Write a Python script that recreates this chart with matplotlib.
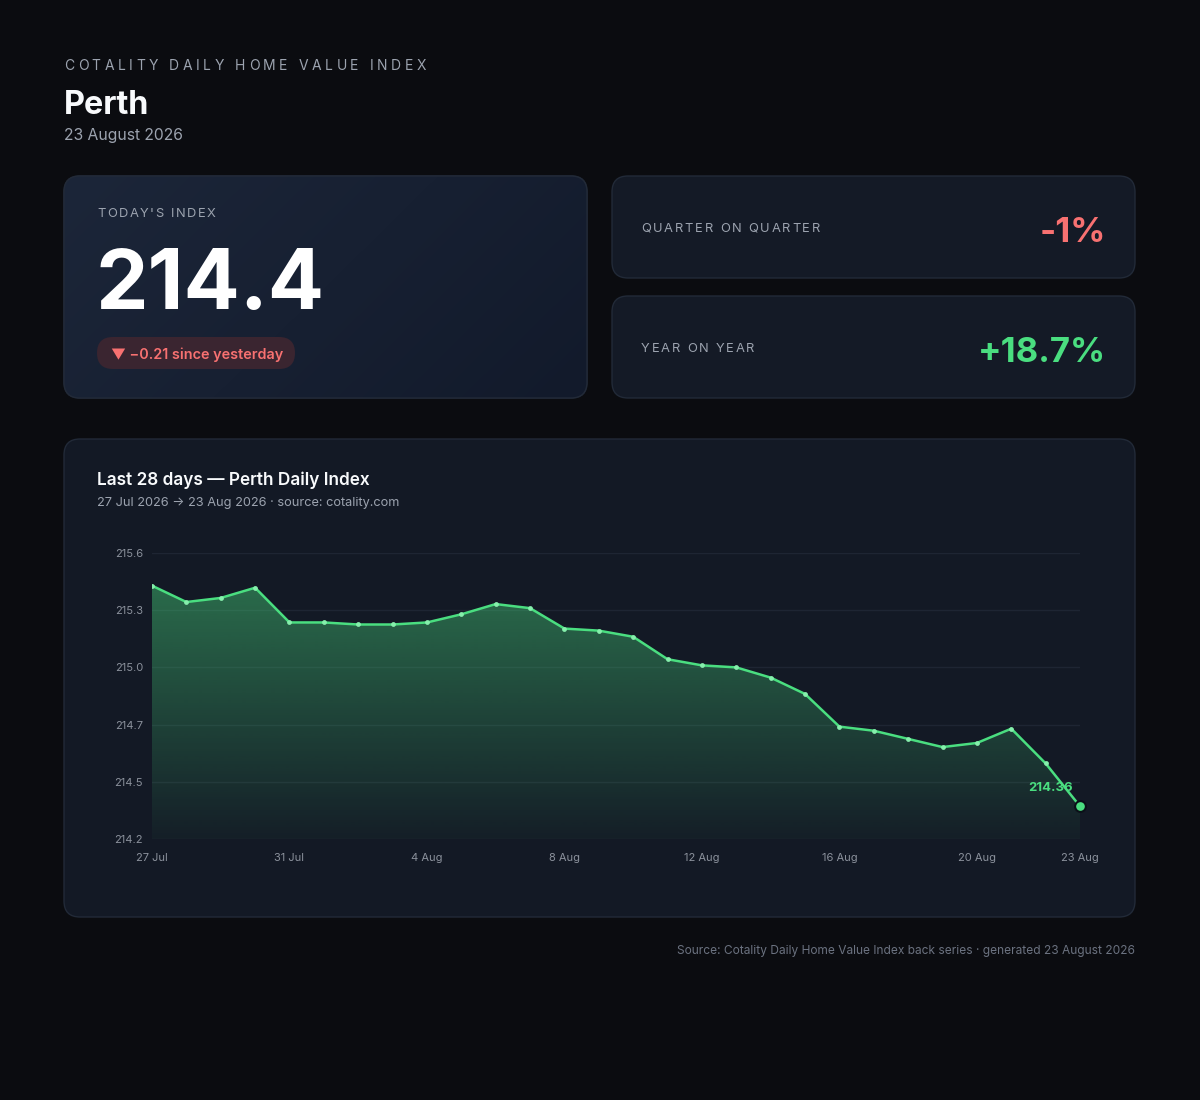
import numpy as np
import matplotlib
matplotlib.use("Agg")
import matplotlib.pyplot as plt
from matplotlib.patches import FancyBboxPatch, PathPatch
from matplotlib.font_manager import FontProperties

# ---------------- data ----------------
dates = ["27 Jul", "28 Jul", "29 Jul", "30 Jul", "31 Jul", "1 Aug", "2 Aug", "3 Aug",
         "4 Aug", "5 Aug", "6 Aug", "7 Aug", "8 Aug", "9 Aug", "10 Aug", "11 Aug",
         "12 Aug", "13 Aug", "14 Aug", "15 Aug", "16 Aug", "17 Aug", "18 Aug", "19 Aug",
         "20 Aug", "21 Aug", "22 Aug", "23 Aug"]
index_values = [215.44, 215.36, 215.38, 215.43, 215.26, 215.26, 215.25, 215.25,
                215.26, 215.30, 215.35, 215.33, 215.23, 215.22, 215.19, 215.08,
                215.05, 215.04, 214.99, 214.91, 214.75, 214.73, 214.69, 214.65,
                214.67, 214.74, 214.57, 214.36]
xtick_labels = ["27 Jul", "31 Jul", "4 Aug", "8 Aug", "12 Aug", "16 Aug", "20 Aug", "23 Aug"]
ytick_labels = ["214.2", "214.5", "214.7", "215.0", "215.3", "215.6"]
y_range = (214.2, 215.6)

todays_index = "214.4"
change_text = "\u25BC \u22120.21 since yesterday"
qoq_text = "-1%"
yoy_text = "+18.7%"
last_label = "214.36"

# ---------------- style ----------------
BG = "#0b0c10"
CARD = "#131925"
CARD_EDGE = "#222a38"
GRID = "#1e2533"
GREEN = "#4ade80"
GREEN_DOT = "#86efac"
RED = "#f87171"
WHITE = "#f8fafc"
GRAY = "#9ca3af"
GRAY2 = "#8b919c"
DIM = "#6b7280"
FAM = ["Inter", "DejaVu Sans"]

W, H = 1200, 1100
fig = plt.figure(figsize=(W / 100, H / 100), dpi=100, facecolor=BG)
bg = fig.add_axes([0, 0, 1, 1])
bg.set_xlim(0, W)
bg.set_ylim(H, 0)
bg.axis("off")
bg.set_zorder(0)
renderer = fig.canvas.get_renderer()


def fp(size, weight="normal"):
    return FontProperties(family=FAM, size=size, weight=weight)


def text_w(s, prop):
    w1, _, _ = renderer.get_text_width_height_descent("x" + s + "x", prop, ismath=False)
    w0, _, _ = renderer.get_text_width_height_descent("xx", prop, ismath=False)
    return w1 - w0


def spaced(x, y, s, prop, tracking, color):
    cur = x
    for ch in s:
        bg.text(cur, y, ch, fontproperties=prop, color=color, ha="left", va="baseline")
        cur += text_w(ch, prop) + tracking


def card(x0, y0, x1, y1, face, edge=CARD_EDGE, r=16, grad=None):
    p = FancyBboxPatch((x0, y0), x1 - x0, y1 - y0,
                       boxstyle=f"round,pad=0,rounding_size={r}",
                       facecolor=face, edgecolor=edge, linewidth=1.0, zorder=1)
    bg.add_patch(p)
    if grad is not None:
        c0 = np.array(matplotlib.colors.to_rgb(grad[0]))
        c1 = np.array(matplotlib.colors.to_rgb(grad[1]))
        gx, gy = np.meshgrid(np.linspace(0, 1, 200), np.linspace(0, 1, 100))
        t = np.clip((gx * 0.7 + gy * 0.3), 0, 1)[..., None]
        img = c0 * (1 - t) + c1 * t
        im = bg.imshow(img, extent=(x0, x1, y1, y0), origin="upper", zorder=1.1,
                       aspect="auto", interpolation="bilinear")
        im.set_clip_path(p)
        p2 = FancyBboxPatch((x0, y0), x1 - x0, y1 - y0,
                            boxstyle=f"round,pad=0,rounding_size={r}",
                            facecolor="none", edgecolor=edge, linewidth=1.0, zorder=1.2)
        bg.add_patch(p2)
    return p


# ---------------- header ----------------
spaced(64, 70, "COTALITY DAILY HOME VALUE INDEX", fp(10), 3.55, GRAY)
bg.text(64, 114, "Perth", fontproperties=fp(23.3, "bold"), color=WHITE, va="baseline")
bg.text(64, 140, "23 August 2026", fontproperties=fp(11.3), color=GRAY, va="baseline")

# ---------------- KPI cards ----------------
card(64, 176, 587, 398, "#182133", grad=("#1c2639", "#121a2b"))
spaced(97, 217, "TODAY'S INDEX", fp(9.3), 1.6, GRAY)
bg.text(96, 309, todays_index, fontproperties=fp(60, "bold"), color="white", va="baseline")
pill = FancyBboxPatch((97, 337), 198, 32, boxstyle="round,pad=0,rounding_size=16",
                      facecolor="#3a2530", edgecolor="none", zorder=2)
bg.add_patch(pill)
bg.text(111, 359, change_text, fontproperties=fp(10.4, "semibold"), color=RED,
        va="baseline", zorder=3)

card(612, 176, 1135, 278, "#141a26")
spaced(641, 232, "QUARTER ON QUARTER", fp(9.3), 1.8, GRAY)
bg.text(1106, 242, qoq_text, fontproperties=fp(25, "bold"), color=RED,
        ha="right", va="baseline")

card(612, 296, 1135, 398, "#141a26")
spaced(641, 352, "YEAR ON YEAR", fp(9.3), 1.8, GRAY)
bg.text(1106, 362, yoy_text, fontproperties=fp(25, "bold"), color=GREEN,
        ha="right", va="baseline")

# ---------------- chart card ----------------
card(64, 439, 1135, 917, CARD)
bg.text(97, 485, "Last 28 days \u2014 Perth Daily Index", fontproperties=fp(12.4, "semibold"),
        color=WHITE, va="baseline")
bg.text(97, 506, "27 Jul 2026 \u2192 23 Aug 2026 \u00b7 source: cotality.com",
        fontproperties=fp(9.2), color=GRAY, va="baseline")

# footer
bg.text(1135, 954, "Source: Cotality Daily Home Value Index back series \u00b7 generated 23 August 2026",
        fontproperties=fp(8.6), color=DIM, ha="right", va="baseline")

# ---------------- line chart ----------------
L, R, T, B = 152, 1080, 553, 839
ax = fig.add_axes([L / W, 1 - B / H, (R - L) / W, (B - T) / H])
ax.set_zorder(5)
ax.patch.set_alpha(0)
x = np.arange(len(index_values))
y = np.array(index_values)
ax.set_xlim(x[0], x[-1])
ax.set_ylim(*y_range)

ax.set_yticks(np.linspace(y_range[0], y_range[1], len(ytick_labels)))
ax.set_yticklabels(ytick_labels)
xt_pos = [dates.index(d) for d in xtick_labels]
ax.set_xticks(xt_pos)
ax.set_xticklabels(xtick_labels)
ax.tick_params(axis="both", length=0, labelsize=8, labelcolor=GRAY2)
ax.tick_params(axis="y", pad=6.5)
ax.tick_params(axis="x", pad=10)
for lab in ax.get_xticklabels() + ax.get_yticklabels():
    lab.set_family(FAM)
for s in ax.spines.values():
    s.set_visible(False)
ax.grid(axis="y", color=GRID, linewidth=1.0)
ax.grid(axis="x", visible=False)
ax.set_axisbelow(True)

# gradient area
poly = ax.fill_between(x, y, y_range[0], color="none", linewidth=0)
gc = np.array(matplotlib.colors.to_rgb(GREEN))
n = 256
alpha = np.linspace(0.42, 0.03, n)
grad = np.zeros((n, 1, 4))
grad[:, 0, :3] = gc
grad[:, 0, 3] = alpha
im = ax.imshow(grad, extent=(x[0], x[-1], y_range[0], y.max()), origin="upper",
               aspect="auto", interpolation="bilinear", zorder=2)
clip = PathPatch(poly.get_paths()[0], transform=ax.transData, facecolor="none", edgecolor="none")
ax.add_patch(clip)
im.set_clip_path(clip)

ax.plot(x, y, color=GREEN, linewidth=1.8, zorder=4, solid_joinstyle="round")
ax.scatter(x[:-1], y[:-1], s=12, color=GREEN_DOT, zorder=5, linewidths=0)
ax.scatter([x[-1]], [y[-1]], s=60, color=GREEN, edgecolors="#0b1018", linewidths=1.5,
           zorder=6, clip_on=False)
ax.annotate(last_label, (x[-1], y[-1]), xytext=(-5, 13), textcoords="offset points",
            ha="right", va="center", color=GREEN, fontsize=9.5, fontweight="bold",
            family=FAM, zorder=7)

fig.savefig("out.png", dpi=100, facecolor=BG)
